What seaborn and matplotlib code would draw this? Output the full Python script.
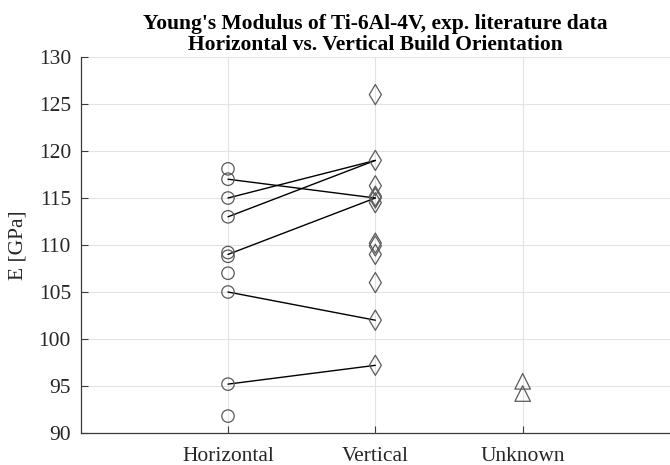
import matplotlib
matplotlib.use("Agg")
import matplotlib.pyplot as plt
import seaborn as sns
import pandas as pd

categories = ["Horizontal", "Vertical", "Unknown"]
horizontal_vals = [118.1, 117.0, 115.0, 113.0, 109.2, 108.8, 107.0, 105.0, 95.2, 91.8]
vertical_vals = [126.0, 119.0, 116.3, 115.2, 115.0, 114.5, 110.2, 109.9, 109.0, 106.0, 102.0, 97.2]
unknown_vals = [95.5, 94.2]
# paired studies: (horizontal, vertical)
pair_h = [117.0, 115.0, 113.0, 109.0, 105.0, 95.2]
pair_v = [115.0, 119.0, 119.0, 115.0, 102.0, 97.2]
title = "Young's Modulus of Ti-6Al-4V, exp. literature data\nHorizontal vs. Vertical Build Orientation"
ylabel = "E [GPa]"
yticks = [90, 95, 100, 105, 110, 115, 120, 125, 130]

sns.set_theme(style="whitegrid")
plt.rcParams["font.family"] = ["Liberation Serif", "DejaVu Serif"]

fig = plt.figure(figsize=(6.7, 4.65), dpi=100)
ax = fig.add_axes([0.1204, 0.0688, 0.8796, 0.8086])

pos = {c: i + 1 for i, c in enumerate(categories)}
pairs = pd.DataFrame({
    "x": [pos["Horizontal"]] * len(pair_h) + [pos["Vertical"]] * len(pair_v),
    "E": pair_h + pair_v,
    "pair": list(range(len(pair_h))) * 2,
})
sns.lineplot(data=pairs, x="x", y="E", units="pair", estimator=None,
             color="black", linewidth=1.0, ax=ax, legend=False)

groups = [("Horizontal", horizontal_vals, "o", 80),
          ("Vertical", vertical_vals, "d", 105),
          ("Unknown", unknown_vals, "^", 125)]
for cat, vals, mk, s in groups:
    df = pd.DataFrame({"x": [pos[cat]] * len(vals), "E": vals})
    sns.scatterplot(data=df, x="x", y="E", marker=mk, s=s,
                    facecolors="none", edgecolor="#5a5a5a", linewidth=0.9,
                    ax=ax, legend=False, zorder=3)

ax.set_xlim(0, 4)
ax.set_ylim(90, 130)
ax.set_xticks([1, 2, 3])
ax.set_xticklabels(categories, fontsize=15.5, color="#262626")
ax.set_yticks(yticks)
ax.set_yticklabels([str(t) for t in yticks], fontsize=15.5, color="#262626")
ax.set_xlabel("")
ax.set_ylabel(ylabel, fontsize=15.5, color="#262626", labelpad=8)
ax.set_title(title, fontsize=15.5, fontweight="bold", color="black",
             pad=5, linespacing=1.05)

ax.grid(True, color="#e3e3e3", linewidth=0.8)
ax.set_facecolor("white")
for side in ["top", "right"]:
    ax.spines[side].set_visible(False)
for side in ["left", "bottom"]:
    ax.spines[side].set_visible(True)
    ax.spines[side].set_color("#3a3a3a")
    ax.spines[side].set_linewidth(0.9)
ax.tick_params(axis="both", direction="in", length=5, width=0.8,
               color="#3a3a3a", left=True, bottom=True)
ax.tick_params(axis="y", pad=7)
ax.tick_params(axis="x", pad=10)

fig.savefig("out.png", dpi=100, facecolor="white")
